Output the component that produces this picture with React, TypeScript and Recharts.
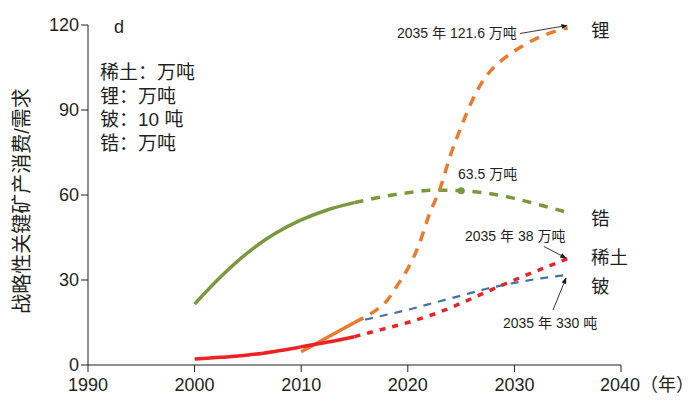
import React from 'react'
import { LineChart, Line, XAxis, YAxis, ReferenceDot } from 'recharts'

const FONT = "'Liberation Sans', 'Noto Sans CJK SC', sans-serif"
const INK = '#231f20'

const GREEN = '#789a3c'
const ORANGE = '#ec7a2d'
const RED = '#ec2227'
const BLUE = '#4471a6'

const xTicks = [1990, 2000, 2010, 2020, 2030, 2040]
const yTicks = [0, 30, 60, 90, 120]

// 锆 (万吨)
const zrYears = [2000, 2002.5, 2005, 2007.5, 2010, 2012.5, 2015, 2017.5, 2020, 2022.5, 2025, 2027.5, 2030, 2032.5, 2035]
const zrValues = [21.5, 31.3, 39.7, 46.3, 51.2, 54.8, 57.3, 59.3, 60.8, 61.7, 61.5, 60.6, 58.8, 56.4, 53.8]

// 锂 (万吨)
const liYears = [2010, 2015, 2016, 2017, 2018, 2019, 2020, 2021, 2022, 2023, 2024, 2025, 2026, 2027, 2028, 2029, 2030, 2031, 2032, 2033, 2034, 2035]
const liValues = [4.7, 15, 17, 19.3, 22.5, 28, 34, 42, 53, 62, 74, 84, 93, 100, 104.8, 108.1, 110.8, 113.1, 115.1, 116.7, 118, 119]

// 稀土 (万吨)
const reYears = [2000, 2002.5, 2005, 2007.5, 2010, 2012.5, 2015, 2017.5, 2020, 2022.5, 2025, 2027.5, 2030, 2032.5, 2035]
const reValues = [2.1, 2.7, 3.5, 4.8, 6.4, 8.1, 10, 12.5, 15, 18, 21.8, 26, 30, 33.8, 37.6]

// 铍 (10 吨)
const beYears = [2016, 2017.5, 2020, 2022.5, 2025, 2027.5, 2030, 2032.5, 2035]
const beValues = [16, 17.3, 19.5, 22, 24.5, 27, 29, 30.6, 31.8]

const splitYear = 2015

function rows(years: number[], values: number[], from: number, to: number) {
  return years
    .map((year, i) => ({ year, v: values[i] }))
    .filter((r) => r.year >= from && r.year <= to)
}

const zrSolid = rows(zrYears, zrValues, 2000, splitYear)
const zrDash = rows(zrYears, zrValues, splitYear, 2035)
const liSolid = rows(liYears, liValues, 2010, splitYear)
const liDash = rows(liYears, liValues, splitYear, 2035)
const reSolid = rows(reYears, reValues, 2000, splitYear)
const reDash = rows(reYears, reValues, splitYear, 2035)
const beDash = rows(beYears, beValues, 2016, 2035)

function XTick(props: any) {
  const { x, y, payload } = props
  const label = payload.value === 2040 ? '2040（年）' : String(payload.value)
  return (
    <text
      x={payload.value === 2040 ? x - 21 : x}
      y={y}
      dy="0.71em"
      textAnchor={payload.value === 2040 ? 'start' : 'middle'}
      fill={INK}
      fontSize={18}
      fontFamily={FONT}
    >
      {label}
    </text>
  )
}

const txt = { fill: INK, fontFamily: FONT }

export default function App() {
  return (
    <div style={{ position: 'absolute', left: 0, top: 0, width: 693, height: 403, background: '#fff' }}>
      <LineChart
        width={693}
        height={403}
        margin={{ top: 25, right: 72, left: 28, bottom: 8 }}
      >
        <XAxis
          dataKey="year"
          type="number"
          domain={[1990, 2040]}
          ticks={xTicks}
          allowDuplicatedCategory={false}
          stroke={INK}
          tickSize={7}
          tickMargin={6}
          height={30}
          tick={<XTick />}
        />
        <YAxis
          type="number"
          domain={[0, 120]}
          ticks={yTicks}
          stroke={INK}
          tickSize={7}
          tickMargin={2}
          width={60}
          tick={{ fill: INK, fontSize: 18, fontFamily: FONT }}
        />
        <Line data={zrSolid} dataKey="v" type="monotone" stroke={GREEN} strokeWidth={3.5} dot={false} isAnimationActive={false} />
        <Line data={zrDash} dataKey="v" type="monotone" stroke={GREEN} strokeWidth={3.5} strokeDasharray="9 8" dot={false} isAnimationActive={false} />
        <Line data={beDash} dataKey="v" type="monotone" stroke={BLUE} strokeWidth={2.2} strokeDasharray="8 7" dot={false} isAnimationActive={false} />
        <Line data={liSolid} dataKey="v" type="linear" stroke={ORANGE} strokeWidth={3.5} dot={false} isAnimationActive={false} />
        <Line data={liDash} dataKey="v" type="monotone" stroke={ORANGE} strokeWidth={3.5} strokeDasharray="10 8" dot={false} isAnimationActive={false} />
        <Line data={reSolid} dataKey="v" type="monotone" stroke={RED} strokeWidth={3.5} dot={false} isAnimationActive={false} />
        <Line data={reDash} dataKey="v" type="monotone" stroke={RED} strokeWidth={3.5} strokeDasharray="6 7" dot={false} isAnimationActive={false} />
        <ReferenceDot x={2025} y={61.5} r={3.5} fill={GREEN} stroke="none" />
      </LineChart>

      <svg
        width={693}
        height={403}
        style={{ position: 'absolute', left: 0, top: 0, pointerEvents: 'none' }}
      >
        <defs>
          <marker id="arr" viewBox="0 0 10 10" refX="9" refY="5" markerWidth="7" markerHeight="7" orient="auto">
            <path d="M0,1 L10,5 L0,9 Z" fill={INK} />
          </marker>
        </defs>

        <text x={22} y={201} {...txt} fontSize={20} textAnchor="middle" dominantBaseline="central" transform="rotate(-90 22 201)">
          战略性关键矿产消费/需求
        </text>

        <text x={114} y={33} {...txt} fontSize={18}>d</text>
        <text x={100} y={79} {...txt} fontSize={19}>稀土：万吨</text>
        <text x={100} y={103} {...txt} fontSize={19}>锂：万吨</text>
        <text x={100} y={126} {...txt} fontSize={19}>铍：10 吨</text>
        <text x={100} y={150} {...txt} fontSize={19}>锆：万吨</text>

        <text x={591} y={37} {...txt} fontSize={18.5}>锂</text>
        <text x={591} y={225} {...txt} fontSize={18.5}>锆</text>
        <text x={591} y={264} {...txt} fontSize={18.5}>稀土</text>
        <text x={591} y={293} {...txt} fontSize={18.5}>铍</text>

        <text x={397} y={38} {...txt} fontSize={14}>2035 年 121.6 万吨</text>
        <line x1={520} y1={33.5} x2={567} y2={25.5} stroke={INK} strokeWidth={0.9} markerEnd="url(#arr)" />

        <text x={458} y={179} {...txt} fontSize={14}>63.5 万吨</text>

        <text x={465} y={241} {...txt} fontSize={14}>2035 年 38 万吨</text>
        <line x1={544} y1={246.5} x2={566} y2={258} stroke={INK} strokeWidth={0.9} markerEnd="url(#arr)" />

        <text x={503} y={328} {...txt} fontSize={14}>2035 年 330 吨</text>
        <line x1={553} y1={310} x2={566} y2={278} stroke={INK} strokeWidth={0.9} markerEnd="url(#arr)" />
      </svg>
    </div>
  )
}
